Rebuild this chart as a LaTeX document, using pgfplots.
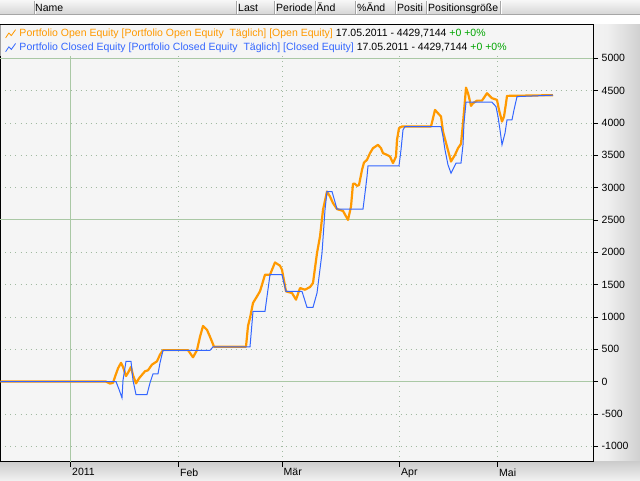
\documentclass[border=0pt]{standalone}
\usepackage{pgfplots}
\pgfplotsset{compat=1.18}
\usepackage{fontspec}
\setmainfont{Liberation Sans}

\definecolor{eqorange}{RGB}{255,153,0}
\definecolor{eqblue}{RGB}{51,102,255}
\definecolor{eqgreen}{RGB}{0,165,0}
\definecolor{plotbg}{RGB}{245,245,245}
\definecolor{gridsolid}{RGB}{170,200,165}
\definecolor{griddot}{RGB}{160,185,160}
\newcommand\uifont{\fontsize{10.5pt}{12pt}\selectfont}
\pgfdeclarehorizontalshading{panel}{100bp}{color(0bp)=(black!3); color(40bp)=(black!6); color(100bp)=(black!27)}

\begin{document}
\begin{tikzpicture}[x=1pt,y=1pt]
\useasboundingbox (0,-480) rectangle (640,0);
% window chrome
\fill[white] (0,0) rectangle (640,-480);
\shade[top color=black!3, bottom color=black!16] (0,0) rectangle (640,-14);
\draw[black!35] (0,-14) -- (640,-14);
\foreach \sx in {34,236.5,274,315,355,395,426.5,500}
  {\draw[black!35] (\sx,-1) -- (\sx,-13.5);
   \draw[white] (\sx+1,-1) -- (\sx+1,-13.5);}
\begin{scope}[every node/.style={anchor=base west, inner sep=0pt, font=\uifont}]
\node at (35,-11) {Name};
\node at (238,-11) {Last};
\node at (276,-11) {Periode};
\node at (316.5,-11) {Änd};
\node at (357,-11) {\%Änd};
\node at (397,-11) {Positi};
\node at (428,-11) {Positionsgröße};
\end{scope}
\shade[shading=panel] (593,-24.5) rectangle (640,-461.5);
\shade[top color=black!20, bottom color=black!6] (0,-461.5) rectangle (640,-480);

\begin{axis}[
  at={(0.5pt,-461.5pt)}, anchor=south west,
  scale only axis, width=592.5pt, height=437pt,
  xmin=0.5, xmax=593, ymin=-1236, ymax=5523,
  axis background/.style={fill=plotbg},
  axis line style={black, line width=1pt},
  tick align=outside, major tick length=5pt,
  tick style={black, line width=0.8pt},
  xtick pos=left, ytick pos=right, yticklabel pos=right,
  xtick={178.5,282,399.5,497.5},
  xticklabels={Feb,Mär,Apr,Mai},
  ytick={-1000,-500,500,1000,1500,2000,3000,3500,4000,4500},
  yticklabels={-1000,-500,500,1000,1500,2000,3000,3500,4000,4500},
  xticklabel style={anchor=north west, inner sep=0pt, xshift=1.5pt, yshift=-1.8pt, font=\uifont},
  yticklabel style={anchor=west, inner sep=0pt, xshift=3.5pt, font=\uifont},
  grid=major,
  major grid style={griddot, line width=0.8pt, dash pattern=on 0.8pt off 4.2pt},
  extra x ticks={70.5}, extra x tick labels={2011},
  extra x tick style={grid=major, major grid style={gridsolid, line width=1pt, solid}},
  extra y ticks={0,2500,5000}, extra y tick labels={0,2500,5000},
  extra y tick style={grid=major, major grid style={gridsolid, line width=1pt, solid}},
  legend style={at={(0,1)}, anchor=north west, xshift=4.5pt, yshift=-4pt,
    draw=none, fill=none, inner sep=0pt, font=\uifont, row sep=3.3pt, column sep=3.5pt,
    nodes={inner sep=0pt, text height=8pt, text depth=2.5pt}},
  legend cell align=left,
  legend image code/.code={\draw[#1, line width=0.8pt] (0pt,-4pt) -- (3.3pt,1pt) -- (5.7pt,-1.7pt) -- (10pt,4.3pt);},
]
\fill[plotbg] (axis cs:0.5,5030) rectangle (axis cs:593,5523);

\addplot[eqorange, line width=2.2pt, line join=round] coordinates {
(0.5,0)(106,0)(110,-30)(113,-20)(115,74)(118,204)(121,290)(123,229)(126,85)(128,136)(131,227)(133,100)(136,-28)(139,50)(142,105)(145,160)(148,175)(152,263)(157,314)(160,417)(163,487)(188,487)(193,376)(197,487)(200,694)(203,860)(207,800)(210,694)(214,540)(246,540)(248,860)(250,984)(253,1216)(257,1318)(260,1397)(263,1550)(265,1653)(270,1653)(275,1843)(280,1792)(282,1730)(286,1395)(292,1370)(296,1267)(300,1447)(305,1421)(310,1463)(313,1525)(317,1988)(320,2245)(323,2657)(327,2940)(330,2863)(333,2760)(337,2668)(343,2640)(348,2500)(351,2708)(353,3059)(355,3059)(357,3028)(359,3040)(362,3275)(364,3388)(367,3430)(370,3533)(373,3610)(378,3662)(381,3610)(383,3533)(387,3507)(390,3481)(393,3379)(396,3481)(397,3739)(399,3920)(402,3945)(431,3945)(435,4202)(438,4150)(441,4100)(443,3867)(447,3635)(451,3404)(455,3507)(458,3610)(461,3677)(463,3997)(465,4357)(466,4547)(468,4460)(469,4400)(471,4264)(473,4306)(477,4346)(482,4346)(487,4460)(492,4383)(497,4357)(499,4202)(502,4022)(504,4099)(506,4306)(507,4419)(553,4430)
};
\addlegendentry{\textcolor{eqorange}{Portfolio Open Equity [Portfolio Open Equity\ \ Täglich] [Open Equity]} 17.05.2011 - 4429,7144 \textcolor{eqgreen}{+0 +0\%}}

\addplot[eqblue, line width=1pt] coordinates {
(0.5,0)(116,0)(119,-120)(122,-252)(123,20)(126,314)(131,314)(133,20)(136,-200)(147,-200)(150,-20)(153,119)(158,119)(160,290)(163,484)(210,484)(213,537)(250,537)(253,1087)(265,1087)(270,1653)(282,1653)(286,1395)(302,1395)(307,1148)(313,1148)(317,1370)(322,1988)(325,2657)(327,2940)(332,2940)(337,2668)(363,2668)(365,2915)(367,3172)(368,3337)(399,3337)(401,3584)(403,3893)(405,3945)(441,3945)(443,3790)(445,3584)(448,3352)(451,3224)(456,3379)(461,3379)(463,3662)(464,3997)(466,4321)(492,4321)(496,4253)(498,4099)(500,3893)(502,3662)(505,3842)(507,4048)(512,4048)(514,4202)(517,4408)(553,4430)
};
\addlegendentry{\textcolor{eqblue}{Portfolio Closed Equity [Portfolio Closed Equity\ \ Täglich] [Closed Equity]} 17.05.2011 - 4429,7144 \textcolor{eqgreen}{+0 +0\%}}
\end{axis}
\end{tikzpicture}
\end{document}
